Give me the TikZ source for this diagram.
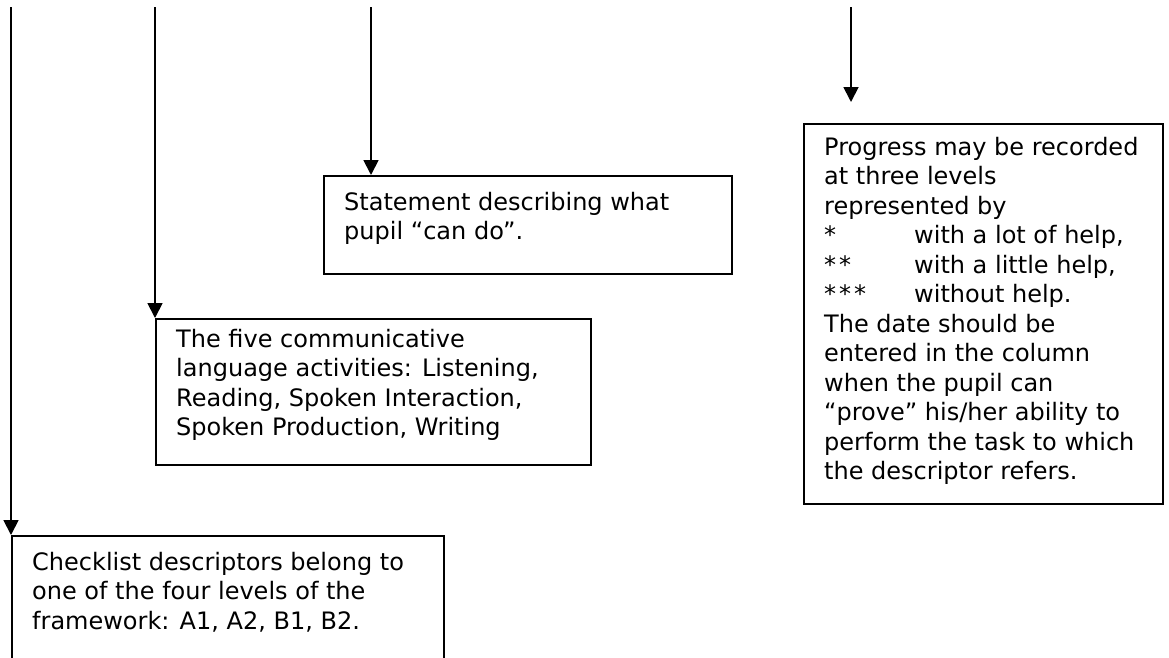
\documentclass[tikz,border=0pt]{standalone}
\usepackage{fontspec}
\setmainfont{DejaVu Sans}
\usetikzlibrary{arrows.meta}
\begin{document}
\begin{tikzpicture}[x=1pt,y=-1pt,
  box/.style={draw,line width=1.8pt,rectangle,inner sep=0pt,anchor=north west},
  txt/.style={anchor=north west,inner sep=0pt,align=left,font=\fontsize{24}{29.5}\selectfont},
  arr/.style={line width=1.8pt,-{Triangle[width=15pt,length=15pt]}}]
\useasboundingbox (0,0) rectangle (1169,657);
\clip (0,0) rectangle (1169,657);
% boxes
\node (b1) [box,minimum width=432pt,minimum height=200pt] at (11,535) {};
\node (b2) [box,minimum width=435pt,minimum height=146pt] at (155,318) {};
\node (b3) [box,minimum width=408pt,minimum height=98pt] at (323,175) {};
\node (b4) [box,minimum width=359pt,minimum height=380pt] at (803,123) {};
% texts (first baseline minus ascender height)
\node (t1) [txt] at ([shift={(21pt,-16.8pt)}]b1.north west) {Checklist descriptors belong to\\one of the four levels of the\\framework: A1, A2, B1, B2.};
\node (t2) [txt] at ([shift={(21pt,-11pt)}]b2.north west) {The five communicative\\language activities: Listening,\\Reading, Spoken Interaction,\\Spoken Production, Writing};
\node (t3) [txt] at ([shift={(21pt,-16.8pt)}]b3.north west) {Statement describing what\\pupil “can do”.};
\node (t4) [txt] at ([shift={(21pt,-13.8pt)}]b4.north west) {Progress may be recorded\\at three levels\\represented by\\\makebox[90pt][l]{*}with a lot of help,\\\makebox[90pt][l]{*\kern3pt*}with a little help,\\\makebox[90pt][l]{*\kern3pt*\kern3pt*}without help.\\The date should be\\entered in the column\\when the pupil can\\“prove” his/her ability to\\perform the task to which\\the descriptor refers.};
% arrow sources
\coordinate (s1) at (11,7);
\coordinate (s2) at (155,7);
\coordinate (s3) at (371,7);
\coordinate (s4) at (851,7);
\coordinate (e4) at (851,102);
\draw[arr] (s1) -- (b1.north west);
\draw[arr] (s2) -- (b2.north west);
\draw[arr] (s3) -- (s3 |- b3.north);
\draw[arr] (s4) -- (e4);
\end{tikzpicture}
\end{document}
